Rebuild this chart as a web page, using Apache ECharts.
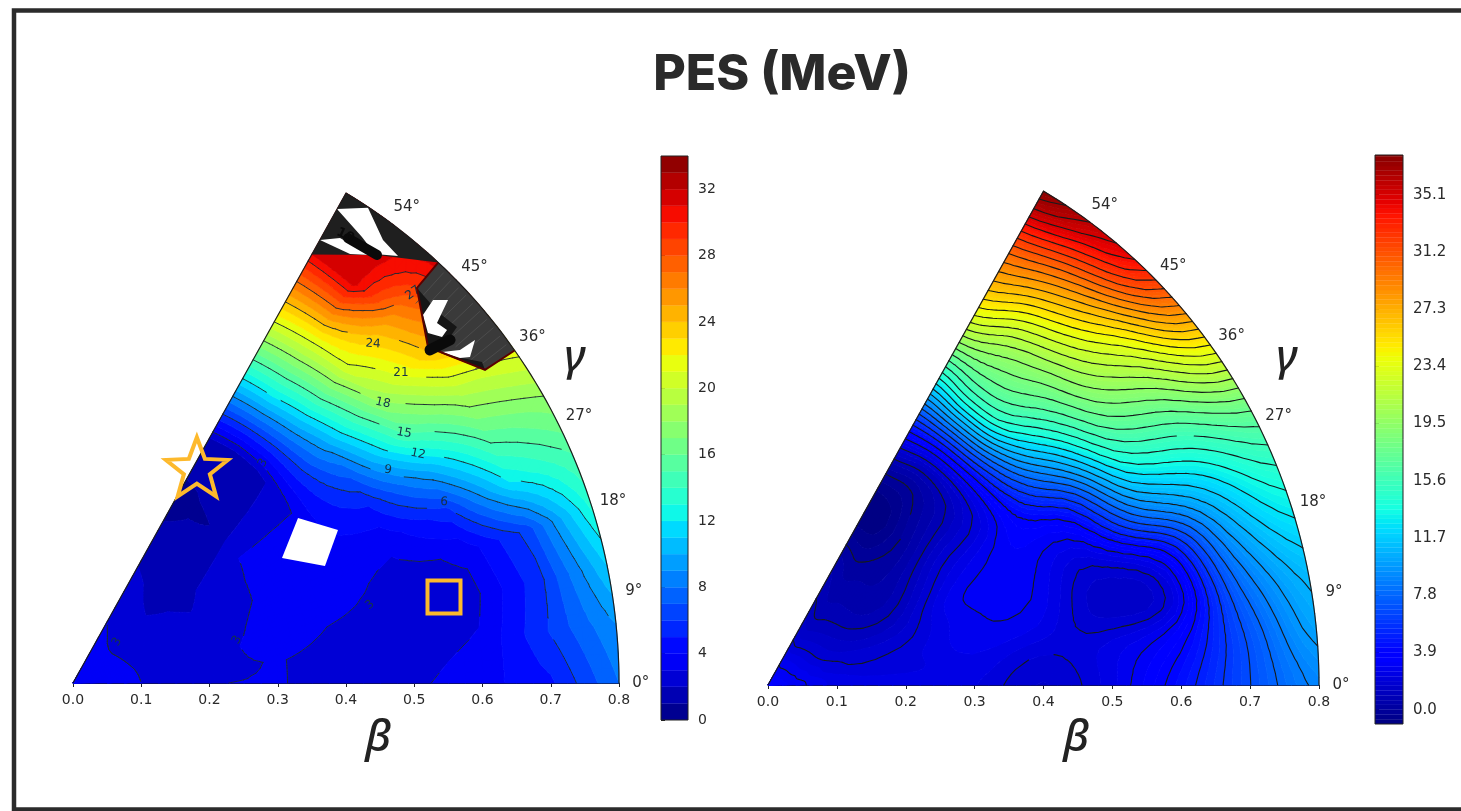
<!DOCTYPE html>
<html><head><meta charset="utf-8">
<style>html,body{margin:0;padding:0;background:#fff}#c{width:1461px;height:811px}</style>
<script src="https://cdn.jsdelivr.net/npm/echarts@6/dist/echarts.min.js"></script>
</head><body><div id="c"></div>
<script>
const betas=[0,0.1,0.2,0.3,0.4,0.5,0.6,0.7,0.8];
const gammas=[0,6,12,18,24,30,36,42,48,54,60];
// rows: gamma, columns: beta
const pesLeft=[
[3.6,3.0,2.98,3.05,2.7,2.8,3.6,4.8,8],
[3.6,2.98,2.8,3.05,2.7,2.5,3.1,6.0,9],
[3.6,2.95,2.6,3.4,2.9,2.5,2.7,5.7,11],
[3.6,2.9,2.4,3.3,3.5,2.6,3.2,6.4,13.2],
[3.6,2.85,2.3,3.1,3.6,3.4,5.7,12,15],
[3.6,2.8,2.0,3.1,3.6,5.0,10,15.6,17.7],
[3.6,2.75,1.7,3.0,3.1,7.2,15,19.3,21.5],
[3.6,2.75,1.0,2.0,2.4,9.5,18.2,24,28],
[3.6,2.8,1.3,1.0,1.6,11,20.7,25.9,31.5],
[3.6,2.9,1.7,0.9,1.5,12,21.4,31.5,32],
[3.6,3.0,1.9,0.5,2.0,12.3,22,31,32]];
const pesRight=[
[3.5,2.5,2.6,2.3,1.6,2.5,4.4,6.8,9],
[3.5,2.4,2.2,2.5,1.95,2.4,3.6,7,10.2],
[3.5,2.1,2.1,2.75,2.6,1.5,2.2,8,11.2],
[3.5,2.0,1.8,2.8,2.95,1.7,3.6,9.8,13],
[3.5,1.75,1.35,2.85,3.1,3.0,8.6,12.3,15.2],
[3.5,1.6,0.9,2.3,3.2,5,12.8,15.6,18.4],
[3.5,1.5,0.5,1.6,2.75,8.6,16,19.2,23.8],
[3.5,1.4,0.35,0.7,2.55,12,18.3,22.9,29.5],
[3.5,1.3,0.3,0.0,2.5,14.6,19.8,26.3,34],
[3.5,1.2,0.2,-0.7,2.6,15,21.2,28.6,36],
[3.5,1.4,0.5,-0.9,3.0,14,23.5,30.3,37.7]];
const levelsLeft=[0,1,2,3,4,5,6,7,8,9,10,11,12,13,14,15,16,17,18,19,20,21,22,23,24,25,26,27,28,29,30,31,32,33,34];
const lineLevelsLeft=[3,6,9,12,15,18,21,24,27,30,33];
const levelsRight=Array.from({length:121},(_,i)=>+(-0.975+i*0.325).toFixed(3));
const lineLevelsRight=Array.from({length:39},(_,i)=>+(i*0.975).toFixed(3));
const ticksLeft=[0,4,8,12,16,20,24,28,32];
const ticksRight=[0,3.9,7.8,11.7,15.6,19.5,23.4,27.3,31.2,35.1];
const angleTicks=[0,9,18,27,36,45,54];
// contour labels on the left panel: [text, x, y, rotation deg, level, gap px]
const contourLabels=[
['27',0.498,0.5516,35,27,20],['24',0.4396,0.4795,-4,24,27],['21',0.4806,0.4385,0,21,27],
['18',0.4542,0.396,-12,18,26],['15',0.485,0.3536,-10,15,27],['12',0.5055,0.3239,-12,12,27],
['9',0.4615,0.3013,-8,9,19],['6',0.5436,0.256,-5,6,19],
['3',0.2784,0.3112,60,3,7],['3',0.0645,0.058,60,3,7],['3',0.2403,0.0608,60,3,7],['3',0.4352,0.1103,40,3,7]];
// left panel overflow / unreadable regions in axis units [x,y]
const holeCell=[[0.3297,0.2334],[0.3883,0.2164],[0.3692,0.1655],[0.3062,0.1768]];
const topEdge=[[0.350,0.606],[0.4454,0.6054],[0.535,0.5945]];
const topWhite=[
[[0.3868,0.6704],[0.4322,0.6719],[0.4542,0.6266],[0.4762,0.6040],[0.4425,0.6068],[0.4234,0.6308]],
[[0.3619,0.6266],[0.3912,0.6294],[0.4352,0.6054],[0.4059,0.6068]]];
const topBlob=[[0.4030,0.6290],[0.4454,0.6054]];
const topBlobLabel=['10',0.3990,0.6330];
const greyEdge=[[0.535,0.5945],[0.5040,0.5587],[0.5201,0.4752],[0.6037,0.4427],[0.647,0.4702]];
const greyBlack=[
[[0.5040,0.5587],[0.5348,0.5247],[0.5626,0.5035],[0.5421,0.4752],[0.5201,0.4752]],
[[0.5348,0.4682],[0.6037,0.4427],[0.5993,0.4540],[0.5626,0.4611]]];
const greyWhite=[
[[0.5275,0.5417],[0.5495,0.5417],[0.5333,0.5092],[0.5480,0.4993],[0.5407,0.4894],[0.5201,0.4950],[0.5128,0.5205]],
[[0.5407,0.4682],[0.5670,0.4710],[0.5890,0.4852],[0.5817,0.4611],[0.5670,0.4597]]];
const greyBlob=[[0.5231,0.4710],[0.5524,0.4852]];
const starPoint=[0.3555,59.3];
const squarePoint=[0.557,12.6];

const rad=d=>d*Math.PI/180;
const pol=(b,g)=>[b*Math.cos(rad(g)),b*Math.sin(rad(g))];
function jet(n){
  n=Math.max(0,Math.min(1,n));
  const ip=(pts)=>{for(let i=1;i<pts.length;i++){if(n<=pts[i][0]){const a=pts[i-1],b=pts[i];return a[1]+(b[1]-a[1])*(n-a[0])/(b[0]-a[0]);}}return pts[pts.length-1][1];};
  const r=ip([[0,0],[.35,0],[.66,1],[.89,1],[1,.5]]),g=ip([[0,0],[.125,0],[.375,1],[.64,1],[.91,0],[1,0]]),b=ip([[0,.5],[.11,1],[.34,1],[.65,0],[1,0]]);
  return `rgb(${Math.round(r*255)},${Math.round(g*255)},${Math.round(b*255)})`;
}
function cr(p0,p1,p2,p3,t){return .5*((2*p1)+(-p0+p2)*t+(2*p0-5*p1+4*p2-p3)*t*t+(-p0+3*p1-3*p2+p3)*t*t*t);}
function refine(tab,f,smooth){
  const nr=tab.length,nc=tab[0].length,out=[];
  const at=(r,c)=>tab[Math.max(0,Math.min(nr-1,r))][Math.max(0,Math.min(nc-1,c))];
  for(let i=0;i<=(nr-1)*f;i++){const row=[];const ri=Math.min(nr-2,Math.floor(i/f)),rt=i/f-ri;
    for(let j=0;j<=(nc-1)*f;j++){const ci=Math.min(nc-2,Math.floor(j/f)),ct=j/f-ci;let v;
      if(smooth){const q=[];for(let m=-1;m<=2;m++){q.push(cr(at(ri+m,ci-1),at(ri+m,ci),at(ri+m,ci+1),at(ri+m,ci+2),ct));}v=cr(q[0],q[1],q[2],q[3],rt);}
      else{v=(1-rt)*((1-ct)*at(ri,ci)+ct*at(ri,ci+1))+rt*((1-ct)*at(ri+1,ci)+ct*at(ri+1,ci+1));}
      row.push(v);}
    out.push(row);}
  return out;
}
function triangles(tab,f,smooth){
  const F=refine(tab,f,smooth),tris=[];
  const b=j=>betas[0]+(betas[betas.length-1]-betas[0])*j/(F[0].length-1);
  const g=i=>gammas[0]+(gammas[gammas.length-1]-gammas[0])*i/(F.length-1);
  const P=(i,j)=>{const p=pol(b(j),g(i));return [p[0],p[1],F[i][j]];};
  for(let i=0;i<F.length-1;i++)for(let j=0;j<F[0].length-1;j++){
    const A=P(i,j),B=P(i,j+1),C=P(i+1,j+1),D=P(i+1,j);
    tris.push([A,B,C],[A,C,D]);}
  return tris;
}
function clipAbove(poly,l,sign){const o=[];for(let i=0;i<poly.length;i++){const a=poly[i],c=poly[(i+1)%poly.length];
  const da=(a[2]-l)*sign,dc=(c[2]-l)*sign;if(da>=0)o.push(a);
  if((da>=0)!==(dc>=0)){const t=da/(da-dc);o.push([a[0]+(c[0]-a[0])*t,a[1]+(c[1]-a[1])*t,l]);}}return o;}
function buildBands(tris,levels){
  const bands=levels.slice(0,-1).map(()=>[]);
  const lo=levels[0],hi=levels[levels.length-1];
  tris.forEach(t=>{const T=t.map(p=>[p[0],p[1],Math.max(lo+1e-4,Math.min(hi-1e-4,p[2]))]);
    const vs=T.map(p=>p[2]),mn=Math.min(...vs),mx=Math.max(...vs);
    for(let k=0;k<bands.length;k++){if(levels[k+1]<mn||levels[k]>mx)continue;
      let q=clipAbove(T,levels[k],1);if(q.length<3)continue;q=clipAbove(q,levels[k+1],-1);if(q.length>=3)bands[k].push(q);}
  });
  return bands;
}
function buildLines(tris,levels){
  return levels.map(l=>{const segs=[];tris.forEach(t=>{const q=[];for(let i=0;i<3;i++){const a=t[i],c=t[(i+1)%3];
      if((a[2]-l)*(c[2]-l)<0){const u=(l-a[2])/(c[2]-a[2]);q.push([a[0]+(c[0]-a[0])*u,a[1]+(c[1]-a[1])*u]);}}
      if(q.length===2)segs.push(q);});return segs;});
}
const trisL=triangles(pesLeft,4,false),trisR=triangles(pesRight,5,true);
const bandsL=buildBands(trisL,levelsLeft),bandsR=buildBands(trisR,levelsRight);
const linesL=buildLines(trisL,lineLevelsLeft),linesR=buildLines(trisR,lineLevelsRight);
const rangeL=[0,34],rangeR=[-0.975,38.025];
const bandColor=(levels,k,range)=>jet(((levels[k]+levels[k+1])/2-range[0])/(range[1]-range[0]));

echarts.graphic.registerShape('multiPoly',echarts.graphic.extendShape({
  shape:{polys:[]},
  buildPath(ctx,s){s.polys.forEach(q=>{if(!q.length)return;ctx.moveTo(q[0][0],q[0][1]);for(let i=1;i<q.length;i++)ctx.lineTo(q[i][0],q[i][1]);ctx.closePath();});}
}));
echarts.graphic.registerShape('multiSeg',echarts.graphic.extendShape({
  shape:{segs:[]},
  style:{fill:null},
  buildPath(ctx,s){s.segs.forEach(q=>{ctx.moveTo(q[0][0],q[0][1]);ctx.lineTo(q[1][0],q[1][1]);});}
}));
function fillSeries(bands,levels,range,xi){
  return {type:'custom',coordinateSystem:'cartesian2d',xAxisIndex:xi,yAxisIndex:xi,silent:true,clip:false,z:1,animation:false,progressive:0,
    data:bands.map((_,i)=>[0,0,i]),
    renderItem(p,api){const k=p.dataIndex,c=bandColor(levels,k,range);
      if(!bands[k].length)return null;
      return {type:'multiPoly',shape:{polys:bands[k].map(q=>q.map(v=>api.coord([v[0],v[1]])))},style:{fill:c,stroke:c,lineWidth:0.7}};}};
}
function lineSeries(lines,levels,labels,xi,color,width){
  return {type:'custom',coordinateSystem:'cartesian2d',xAxisIndex:xi,yAxisIndex:xi,silent:true,clip:false,z:2,animation:false,progressive:0,
    data:lines.map((_,i)=>[0,0,i]),
    renderItem(p,api){const k=p.dataIndex,l=levels[k];
      const labs=labels.filter(a=>a[4]===l).map(a=>({c:api.coord([a[1],a[2]]),r:a[5]}));
      const ch=[];lines[k].forEach(s=>{const A=api.coord(s[0]),B=api.coord(s[1]);const mx=(A[0]+B[0])/2,my=(A[1]+B[1])/2;
        if(labs.some(a=>Math.hypot(a.c[0]-mx,a.c[1]-my)<a.r))return;ch.push([A,B]);});
      if(!ch.length)return null;
      return {type:'multiSeg',shape:{segs:ch},style:{fill:'none',stroke:color,lineWidth:width,lineCap:'round'}};}};
}
function arc(g0,g1){const o=[];const n=Math.round(Math.abs(g1-g0)/1)+1;for(let i=0;i<n;i++)o.push(pol(0.8,g0+(g1-g0)*i/(n-1)));return o;}
function outlineSeries(xi){
  return {type:'custom',coordinateSystem:'cartesian2d',xAxisIndex:xi,yAxisIndex:xi,silent:true,clip:false,z:6,animation:false,
    data:[[0,0]],renderItem(p,api){
      const pts=[[0,0]].concat(arc(60,0)).map(v=>api.coord(v));
      return {type:'polyline',shape:{points:pts},style:{stroke:'#1c1c1c',lineWidth:1.2,fill:'none'}};}};
}
function angleSeries(xi){
  return {type:'custom',coordinateSystem:'cartesian2d',xAxisIndex:xi,yAxisIndex:xi,silent:true,clip:false,z:6,animation:false,
    data:angleTicks.map(a=>[0,0,a]),renderItem(p,api){const a=angleTicks[p.dataIndex],c=api.coord(pol(0.832,a));
      return {type:'text',x:c[0],y:c[1],style:{text:a+'°',fontFamily:'DejaVu Sans',fontSize:15,fill:'#2a2a2a',align:'center',verticalAlign:'middle'}};}};
}
function barSeries(levels,range,xi,top){
  return {type:'custom',coordinateSystem:'cartesian2d',xAxisIndex:xi,yAxisIndex:xi,silent:true,clip:true,z:2,animation:false,
    data:levels.slice(0,-1).map((_,i)=>[0,levels[i]]),
    renderItem(p,api){const k=p.dataIndex,a=api.coord([0,levels[k]]),b=api.coord([1,Math.min(top,levels[k+1])]),c=bandColor(levels,k,range);
      return {type:'rect',shape:{x:a[0],y:b[1],width:b[0]-a[0],height:a[1]-b[1]},style:{fill:c,stroke:c,lineWidth:0.3}};}};
}
function frameSeries(xi,lo,hi){
  return {type:'custom',coordinateSystem:'cartesian2d',xAxisIndex:xi,yAxisIndex:xi,silent:true,clip:false,z:4,animation:false,
    data:[[0,lo]],renderItem(p,api){const a=api.coord([0,lo]),b=api.coord([1,hi]);
      return {type:'rect',shape:{x:a[0],y:b[1],width:b[0]-a[0],height:a[1]-b[1]},style:{fill:'none',stroke:'#222',lineWidth:1}};}};
}
const maskSeries={type:'custom',coordinateSystem:'cartesian2d',xAxisIndex:0,yAxisIndex:0,silent:true,clip:false,z:5,animation:false,
  data:[[0,0]],renderItem(p,api){
    const C=a=>a.map(v=>api.coord(v));const ch=[];
    const poly=(a,fill)=>ch.push({type:'polygon',shape:{points:C(a)},style:{fill}});
    poly(holeCell,'#fff');
    poly(topEdge.concat(arc(48,60)),'#1f1f1f');
    topWhite.forEach(a=>poly(a,'#fff'));
    const A0=api.coord(topBlob[0]),B0=api.coord(topBlob[1]);
    ch.push({type:'line',shape:{x1:A0[0],y1:A0[1],x2:B0[0],y2:B0[1]},style:{stroke:'#0a0a0a',lineWidth:10,lineCap:'round'}});
    const L0=api.coord([topBlobLabel[1],topBlobLabel[2]]);
    ch.push({type:'text',x:L0[0],y:L0[1],rotation:rad(-25),style:{text:topBlobLabel[0],fontFamily:'DejaVu Sans',fontWeight:'bold',fontSize:13,fill:'#0a0a0a',align:'center',verticalAlign:'middle'}});
    poly(greyEdge.concat(arc(36,48)),'#3a3a3a');
    for(let g=37;g<48;g+=1.1){const A=api.coord(pol(0.735,g)),B=api.coord(pol(0.795,g));ch.push({type:'line',shape:{x1:A[0],y1:A[1],x2:B[0],y2:B[1]},style:{stroke:'#4e4e4e',lineWidth:0.9}});}
    greyBlack.forEach(a=>poly(a,'#161616'));
    greyWhite.forEach(a=>poly(a,'#fff'));
    ch.push({type:'polyline',shape:{points:C(greyEdge)},style:{stroke:'#5a0000',lineWidth:2,fill:'none'}});
    const A=api.coord(greyBlob[0]),B=api.coord(greyBlob[1]);
    ch.push({type:'line',shape:{x1:A[0],y1:A[1],x2:B[0],y2:B[1]},style:{stroke:'#0a0a0a',lineWidth:11,lineCap:'round'}});
    return {type:'group',children:ch};}};
const labelSeries={type:'custom',coordinateSystem:'cartesian2d',xAxisIndex:0,yAxisIndex:0,silent:true,clip:false,z:3,animation:false,
  data:contourLabels.map(a=>[a[1],a[2]]),renderItem(p,api){const a=contourLabels[p.dataIndex],c=api.coord([a[1],a[2]]);
    return {type:'text',x:c[0],y:c[1],rotation:rad(a[3]),style:{text:a[0],fontFamily:'DejaVu Sans',fontSize:12,fill:'#14324a',align:'center',verticalAlign:'middle'}};}};
const starPath=(()=>{let d='';for(let i=0;i<10;i++){const r=i%2?0.42:1,a=rad(-90+36*i);d+=(i?'L':'M')+(r*Math.cos(a)*100).toFixed(1)+' '+(r*Math.sin(a)*100).toFixed(1);}return 'path://'+d+'Z';})();
const markerSeries={type:'scatter',coordinateSystem:'cartesian2d',xAxisIndex:0,yAxisIndex:0,silent:true,z:8,animation:false,
  data:[{value:pol(starPoint[0],starPoint[1]),symbol:starPath,symbolSize:[62,59]},{value:pol(squarePoint[0],squarePoint[1]),symbol:'rect',symbolSize:[33,33]}],
  itemStyle:{color:'rgba(0,0,0,0)',borderColor:'#FDB92C',borderWidth:4,opacity:1}};

const mainX=g=>({gridIndex:g,type:'value',min:0,max:0.8,interval:0.1,splitLine:{show:false},
  axisLine:{show:true,onZero:false,lineStyle:{color:'#141432',width:1.2}},axisTick:{show:true,length:4,lineStyle:{color:'#222'}},
  axisLabel:{show:true,fontFamily:'DejaVu Sans',fontSize:14,color:'#2a2a2a',margin:10,formatter:v=>v.toFixed(1),hideOverlap:false,showMinLabel:true,showMaxLabel:true}});
const mainY=g=>({gridIndex:g,type:'value',min:0,max:0.7,show:false,splitLine:{show:false}});
const cbX=g=>({gridIndex:g,type:'value',min:0,max:1,show:false,splitLine:{show:false}});
const cbY=(g,min,max,ticks,fmt,size,margin)=>({gridIndex:g,type:'value',position:'right',min,max,splitLine:{show:false},scale:true,
  axisLine:{show:false},axisTick:{show:true,length:4,lineStyle:{color:'#222'},customValues:ticks},
  axisLabel:{show:true,fontFamily:'DejaVu Sans',fontSize:size,color:'#2a2a2a',margin,customValues:ticks,formatter:fmt}});
const greek=(t,x,y)=>({type:'text',x,y,silent:true,style:{text:t,font:'italic 500 44px "Noto Sans"',fill:'#222',align:'center',verticalAlign:'middle'}});
const option={
  animation:false,backgroundColor:'#fff',
  title:{text:'PES (MeV)',left:777,top:45,textAlign:'center',textStyle:{fontFamily:'Inter',fontWeight:800,fontSize:50,color:'#2a2a2a'}},
  grid:[
    {left:73,width:546,top:188,height:495},
    {left:661,width:27,top:156,height:564},
    {left:768,width:551,top:186,height:499},
    {left:1375,width:28,top:155,height:569}],
  xAxis:[mainX(0),cbX(1),mainX(2),cbX(3)],
  yAxis:[mainY(0),cbY(1,0,34,ticksLeft,v=>String(v),14,10),mainY(2),cbY(3,-0.975,37.8,ticksRight,v=>(+v).toFixed(1),15,10)],
  graphic:[
    {type:'rect',shape:{x:14,y:10.5,width:1500,height:799},style:{fill:'none',stroke:'#2b2b2b',lineWidth:4.5},silent:true,z:20},
    greek('β',378,738),greek('β',1076,738),greek('γ',575,358),greek('γ',1287,358)
  ],
  series:[
    fillSeries(bandsL,levelsLeft,rangeL,0),lineSeries(linesL,lineLevelsLeft,contourLabels,0,'#1c2a33',0.9),labelSeries,maskSeries,outlineSeries(0),angleSeries(0),markerSeries,
    barSeries(levelsLeft,rangeL,1,34),frameSeries(1,0,34),
    fillSeries(bandsR,levelsRight,rangeR,2),lineSeries(linesR,lineLevelsRight,[],2,'#151a1c',1.1),outlineSeries(2),angleSeries(2),
    barSeries(levelsRight,rangeR,3,37.8),frameSeries(3,-0.975,37.8)
  ]
};
echarts.init(document.getElementById('c'),null,{renderer:'canvas'}).setOption(option);
</script></body></html>
